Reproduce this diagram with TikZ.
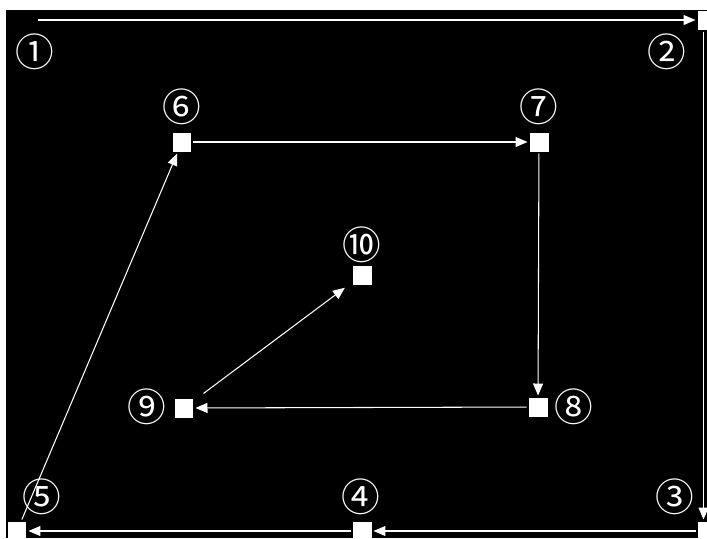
\documentclass[tikz,border=0pt]{standalone}
\usepackage{fontspec}
\newfontfamily\circfont{Noto Sans CJK JP}
\usepackage{tikz}
\usetikzlibrary{arrows.meta}

\tikzset{
  punkt/.style={rectangle, fill=white, minimum size=0.38cm, inner sep=0pt, outer sep=0.04cm},
  nummer/.style={text=white, font=\circfont\fontsize{22}{24}\selectfont, inner sep=0pt},
  pfeil/.style={draw=white, line width=0.6pt, -{Triangle[length=0.24cm, width=0.2cm]}}
}

\begin{document}
\begin{tikzpicture}[x=0.02cm, y=-0.02cm]
  % Hintergrund: weisser Rand, schwarze Flaeche
  \useasboundingbox (0,0) rectangle (707,538);
  \fill[white] (0,0) rectangle (707,538);
  \fill[black] (6,10) rectangle (707,538);

  % Punkte
  \coordinate (p1) at (38,20);
  \node[punkt] (p2) at (707,20) {};
  \node[punkt] (p3) at (707,531) {};
  \node[punkt] (p4) at (362,531) {};
  \node[punkt] (p5) at (17,531) {};
  \node[punkt] (p6) at (182,142) {};
  \node[punkt] (p7) at (539,142) {};
  \node[punkt] (p8) at (538,407) {};
  \node[punkt] (p9) at (184,408) {};
  \node[punkt] (p10) at (362,275) {};

  % Nummern
  \node[nummer] (l1) at (35,52) {①};
  \node[nummer] (l2) at (667,52) {②};
  \node[nummer] (l3) at (675,497) {③};
  \node[nummer] (l4) at (361,497) {④};
  \node[nummer] (l5) at (42,497) {⑤};
  \node[nummer] (l6) at (182,107) {⑥};
  \node[nummer] (l7) at (539,107) {⑦};
  \node[nummer] (l8) at (574,407) {⑧};
  \node[nummer] (l9) at (147,407) {⑨};
  \node[nummer] (l10) at (362,245) {⑩};

  % Pfeile
  \draw[pfeil] (p1) -- (p2);
  \draw[pfeil] ([xshift=-2]p2.south) -- ([xshift=-2]p3.north);
  \draw[pfeil] (p3) -- (p4);
  \draw[pfeil] (p4) -- (p5);
  \draw[pfeil] (p5) -- (p6);
  \draw[pfeil] (p6) -- (p7);
  \draw[pfeil] (p7) -- (p8);
  \draw[pfeil] (p8) -- (p9);
  \draw[pfeil, shorten <=0.2cm, shorten >=0.14cm] (p9) -- (p10);
\end{tikzpicture}
\end{document}
